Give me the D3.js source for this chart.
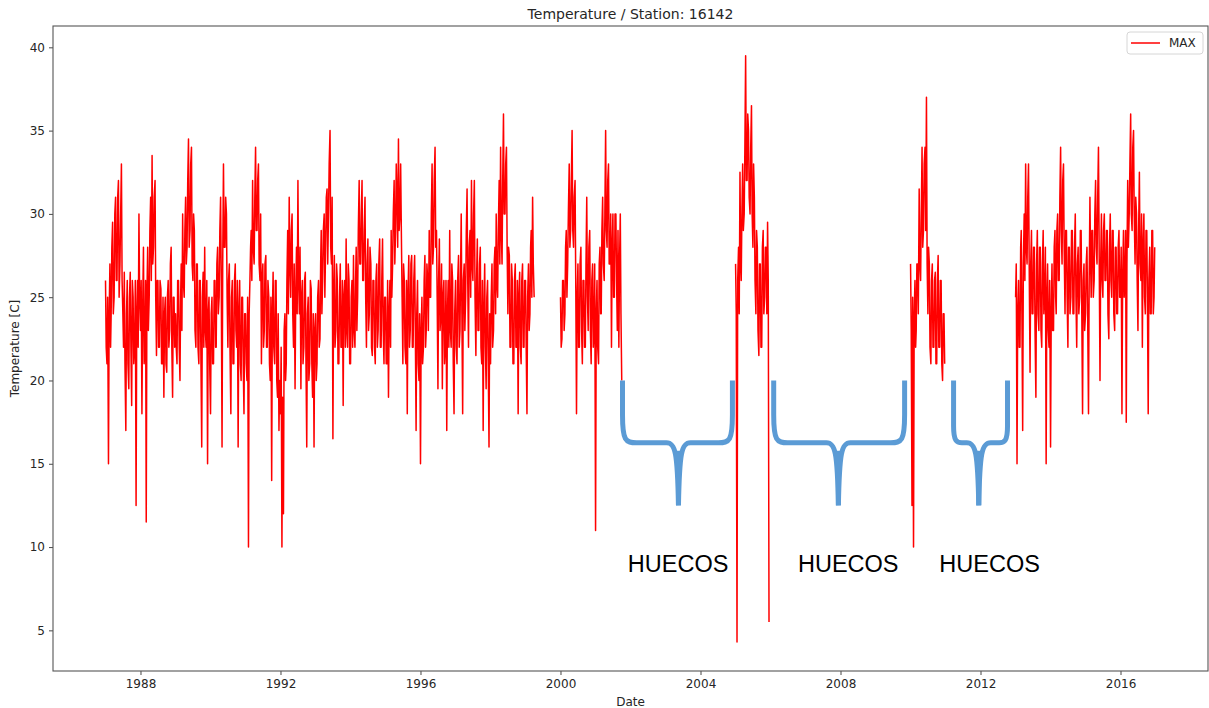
<!DOCTYPE html>
<html>
<head>
<meta charset="utf-8">
<script src="https://cdn.jsdelivr.net/npm/d3@7/dist/d3.min.js"></script>
<style>
  html, body { margin: 0; padding: 0; background: #ffffff; }
  svg { display: block; }
</style>
</head>
<body>
<svg id="chart" width="1209" height="708"></svg>
<script>
// ---------------- DATA (weekly samples: 1st, 8th, 16th, 23rd of each month) ----------------
const y1987 = [26,22, 21,25, 15,24, 27,22, 24,28, 29.5,24, 25,30, 31,26, 26,31, 32,25, 27,30, 33,26, 24,22, 26.5,21, 17,24, 26,21, 19.5,25, 26.5,22, 18.5,26, 25,21, 22,26, 12.5,24, 26,22, 30,25];
const y1988 = [23,26, 18,24, 28,21, 22,26, 11.5,25, 28,23, 25,29, 31,26, 33.5,27, 28,31, 32,25, 21.5,26, 26,22, 22,26, 25.5,21, 21,25, 19,24, 25,21, 20.5,25, 26,22, 23,27, 28,22, 19,25, 25,22];
const y1989 = [24,22, 21,26, 26,22, 20,25, 27,23, 30,26, 25,29, 31,27, 28,32, 34.5,28, 29,33, 34,27, 26,30, 29,23, 22,27, 27,22, 21,26, 26,21, 16,25, 26.5,22, 28,23, 22,26, 15,24, 25,21];
const y1990 = [18,24, 25,21, 21,26, 26,22, 22,27, 28,24, 25,29, 31,26, 16,27, 33,28, 28,31, 30,25, 22,26, 27,22, 18,25, 26,21, 21,26, 27,23, 22,26, 16,24, 26,21, 20,25, 25,21, 18,24];
const y1991 = [24,21, 20,25, 10,24, 26,28, 29,26, 32,28, 27,31, 34,29, 29,32, 33,27, 26,30, 21,26, 27,22, 23,27, 27.5,22, 22,26, 25,21, 20,25, 14,24, 26.5,22, 21,26, 26,20, 19,24, 17,20];
const y1992 = [18,22, 10,19, 12,23, 24,20, 21,26, 29,24, 31,27, 25,29, 30,24, 22,27, 19.5,25, 28,24, 32,26, 24,28, 19.5,25, 26,21, 22,26, 26.5,21, 16,24, 25,20, 21,26, 25.5,21, 19,24, 16,23];
const y1993 = [24,20, 21,25, 26,22, 22.5,27, 29,24, 26,29, 30,25, 28,31, 31.5,27, 30,33, 35,28, 27,31, 16.5,25, 27.5,22, 23,27, 26,21, 21,25, 27,22, 22,26, 18.5,25, 26,22, 28.5,23, 22,27, 26,21];
const y1994 = [21,25, 26,22, 27.5,23, 22,26, 28,23, 25,29, 32,27, 27,30, 32,26, 26,29, 31,25, 22,27, 28.5,23, 24,28, 27,22, 21.5,26, 26,22, 21,26, 27,22, 23,27, 28.5,22, 22,26, 28.5,23, 21,25];
const y1995 = [25,21, 21,26, 19,24, 26,22, 29,25, 27,30, 32,27, 29,33, 31,28, 34.5,29, 30,33, 28.5,25, 21,27, 26,22, 21,26, 18,25, 27.5,22, 23,27, 27.5,22, 22,26, 27.5,23, 17,24, 26,21, 20,24];
const y1996 = [15,23, 25,21, 22,26, 27.5,22, 23,27, 26,23, 29,25, 25,30, 33,27, 28,32, 34,28, 29,25, 19.5,26, 28.5,23, 24,27, 19.5,25, 26,21, 22,26, 17,24, 26,22, 29,23, 22,27, 26,21, 18,24];
const y1997 = [26,22, 21,26, 27.5,22, 23,27, 30,24, 18,26, 27,23, 25,29, 31.5,26, 22,28, 29,25, 32,27, 26,30, 32,25, 21.5,26, 28.5,23, 23,27, 28,22, 21,26, 17,24, 27,22, 19.5,25, 26,21, 16,24];
const y1998 = [21,25, 27,22, 23,27, 28,24, 30,26, 25,29, 32,27, 34,29, 27,32, 36,30, 30,33, 34,28, 24,28, 27.5,22, 22,27, 26,21, 21,26, 27,22, 22,26, 18,25, 26.5,22, 21,26, 27,22, 22,26];
const y1999 = [26,22, 18,25, 27,23, 24,28, 29,25, 31,27, 25];
const y2000 = [25,22, 22.5,26, 26,23, 24,28, 29,25, 27,30, 33,28, 29,32, 35,29, 28,31, 32,26, 18,25, 27,22, 22,27, 28,23, 21,26, 26,22, 22,27, 31,25, 23,28, 29,23, 21,26, 27,22, 23,27];
const y2001 = [11,24, 26,22, 21,27, 28,24, 24,29, 31,27, 26,30, 35,29, 28,32, 33,27, 27,30, 22,28, 30,25, 25,30, 30,26, 23,29, 22,27, 30,24, 20];
const y2005 = [27,24, 4.3,26, 28,24, 32.5,27, 26,30, 33,29, 30,34, 39.5,32, 32,36, 35,31, 30,34, 36.5,30, 28,33, 31,26, 24,29, 28,23, 21.5,27, 27,22, 22,28, 29,24, 25,28, 28,24, 29.5,26, 5.5];
const y2010 = [27,23, 12.5,25, 10,24, 26,22, 23,27, 27,24, 31.5,27, 26,30, 34,28, 29,33, 34,29, 37,27, 24,28, 27,22, 21,26, 27,22, 22,26, 26.5,21, 21,26, 27.5,22, 22,26, 26,21, 20,24, 24,21];
const y2013 = [25,27, 15,24, 26,22, 22,28, 29,24, 17,27, 30,26, 33,28, 27,31, 33,27, 20.5,27, 29,24, 24,28, 28,23, 19,27, 29,24, 23,28, 28,23, 22,27, 29,24, 25,28, 15,25, 27,23, 22,26];
const y2014 = [16,24, 27,23, 23,28, 29,25, 24,29, 30,26, 26,31, 34,29, 27,32, 33,28, 24,29, 29,25, 22,28, 28,24, 25,29, 29,24, 24,28, 30,25, 22,27, 28,24, 25,29, 29,24, 18,26, 27,23];
const y2015 = [24,27, 28,24, 18,26, 31,27, 25,29, 29,25, 26,30, 32,28, 27,31, 34,28, 20,27, 30,26, 25,29, 30,26, 26,29, 29,24, 22.5,28, 30,26, 25,29, 29,24, 23,28, 28,24, 24,28, 29,25];
const y2016 = [25,28, 18,26, 29,25, 26,29, 17.5,27, 32,28, 30,33, 36,30, 29,34, 35,30, 27,31, 30,26, 23,29, 32.5,27, 26,30, 22,28, 30,25, 24,29, 29,25, 18,26, 28,24, 24,29, 29,24, 25,28];

const seriesYears = [
  [1987, y1987], [1988, y1988], [1989, y1989], [1990, y1990], [1991, y1991],
  [1992, y1992], [1993, y1993], [1994, y1994], [1995, y1995], [1996, y1996],
  [1997, y1997], [1998, y1998], [1999, y1999], [2000, y2000], [2001, y2001],
  [2005, y2005], [2010, y2010], [2013, y2013], [2014, y2014], [2015, y2015], [2016, y2016]
];
const sampleDays = [1, 8, 16, 23];

const xTickYears = [1988, 1992, 1996, 2000, 2004, 2008, 2012, 2016];
const yTickValues = [5, 10, 15, 20, 25, 30, 35, 40];

// gap annotations ("HUECOS"): brace start year, end year, centre year
const braceStart = [2001.77, 2006.09, 2011.23];
const braceEnd   = [2004.91, 2009.83, 2012.77];
const braceMid   = [2003.37, 2007.94, 2011.95];
const braceTop = 20, braceBar = 16.26, braceTip = 12.5;
const gapLabels = ["HUECOS", "HUECOS", "HUECOS"];
const gapLabelCenters = [2003.36, 2008.22, 2012.26];
const gapLabelBaseline = 8.52;

// ---------------- BUILD POINTS (break the line where samples are missing) ----------------
const points = [];
let prevDate = null;
seriesYears.forEach(([yr, vals]) => {
  vals.forEach((v, i) => {
    const date = new Date(yr, Math.floor(i / 4), sampleDays[i % 4]);
    if (prevDate !== null && (date - prevDate) > 20 * 864e5) points.push({date: null, v: null});
    points.push({date: date, v: v});
    prevDate = date;
  });
});

// ---------------- LAYOUT ----------------
const L = 53, R = 1208, T = 26, B = 671;
const svg = d3.select("#chart");
svg.append("rect").attr("width", 1209).attr("height", 708).attr("fill", "#fff");

const x = d3.scaleTime()
  .domain([new Date(1985, 6, 2), new Date(2018, 6, 2)])
  .range([L, R]);
const y = d3.scaleLinear().domain([2.56, 41.28]).range([B, T]);

function yearToDate(fy) {
  const yr = Math.floor(fy);
  const start = new Date(yr, 0, 1), end = new Date(yr + 1, 0, 1);
  return new Date(+start + (fy - yr) * (end - start));
}
const xf = fy => x(yearToDate(fy));

const fontMain = "'DejaVu Sans', sans-serif";
const textCol = "#262626";

svg.append("clipPath").attr("id", "clip")
  .append("rect").attr("x", L).attr("y", T).attr("width", R - L).attr("height", B - T);

const line = d3.line()
  .defined(d => d.v !== null && d.date !== null)
  .x(d => x(d.date))
  .y(d => y(d.v));

svg.append("path")
  .datum(points)
  .attr("clip-path", "url(#clip)")
  .attr("fill", "none")
  .attr("stroke", "#ff0000")
  .attr("stroke-width", 1.5)
  .attr("stroke-linejoin", "round")
  .attr("d", line);

// axes
const xAxis = d3.axisBottom(x)
  .tickValues(xTickYears.map(yr => new Date(yr, 0, 1)))
  .tickFormat(d3.timeFormat("%Y"))
  .tickSizeInner(4).tickSizeOuter(0).tickPadding(4);
const gx = svg.append("g").attr("transform", `translate(0,${B})`).call(xAxis);
gx.select(".domain").remove();
gx.selectAll(".tick line").attr("stroke", "#333").attr("stroke-width", 0.9);
gx.selectAll(".tick text").attr("fill", textCol).attr("font-family", fontMain).attr("font-size", 12);

const yAxis = d3.axisLeft(y)
  .tickValues(yTickValues)
  .tickFormat(d3.format("d"))
  .tickSizeInner(4).tickSizeOuter(0).tickPadding(4);
const gy = svg.append("g").attr("transform", `translate(${L},0)`).call(yAxis);
gy.select(".domain").remove();
gy.selectAll(".tick line").attr("stroke", "#333").attr("stroke-width", 0.9);
gy.selectAll(".tick text").attr("fill", textCol).attr("font-family", fontMain).attr("font-size", 12);

// spines
svg.append("rect")
  .attr("x", L).attr("y", T).attr("width", R - L).attr("height", B - T)
  .attr("fill", "none").attr("stroke", "#555").attr("stroke-width", 1.1);

// title and labels
svg.append("text").attr("x", (L + R) / 2).attr("y", 19)
  .attr("text-anchor", "middle").attr("font-family", fontMain).attr("font-size", 14)
  .attr("fill", textCol).text("Temperature / Station: 16142");
svg.append("text").attr("x", (L + R) / 2).attr("y", 706)
  .attr("text-anchor", "middle").attr("font-family", fontMain).attr("font-size", 12)
  .attr("fill", textCol).text("Date");
svg.append("text")
  .attr("transform", `translate(19,${(T + B) / 2}) rotate(-90)`)
  .attr("text-anchor", "middle").attr("font-family", fontMain).attr("font-size", 12)
  .attr("fill", textCol).text("Temperature [C]");

// legend
const lg = svg.append("g");
lg.append("rect").attr("x", 1127).attr("y", 32).attr("width", 76).attr("height", 22)
  .attr("rx", 3).attr("fill", "#fff").attr("fill-opacity", 0.8)
  .attr("stroke", "#d6d6d6").attr("stroke-width", 1);
lg.append("line").attr("x1", 1131).attr("x2", 1160).attr("y1", 43).attr("y2", 43)
  .attr("stroke", "#ff0000").attr("stroke-width", 1.5);
lg.append("text").attr("x", 1169).attr("y", 47.3)
  .attr("font-family", fontMain).attr("font-size", 12).attr("fill", textCol).text("MAX");

// braces
const braceCol = "#5b9bd5";
braceStart.forEach((s, i) => {
  const x0 = xf(s), x1 = xf(braceEnd[i]), cx = xf(braceMid[i]);
  const yt = y(braceTop), yb = y(braceBar), yp = y(braceTip);
  const r = Math.min(14, (cx - x0) / 3);
  const r2 = 12;
  const d = [
    `M${x0},${yt}`,
    `L${x0},${yb - 2 * r}`,
    `C${x0},${yb - 2} ${x0 + 3},${yb} ${x0 + r},${yb}`,
    `L${cx - r2},${yb}`,
    `C${cx - 3},${yb} ${cx - 1},${yb + 10} ${cx},${yp}`,
    `M${cx},${yp}`,
    `C${cx + 1},${yb + 10} ${cx + 3},${yb} ${cx + r2},${yb}`,
    `L${x1 - r},${yb}`,
    `C${x1 - 3},${yb} ${x1},${yb - 2} ${x1},${yb - 2 * r}`,
    `L${x1},${yt}`
  ].join(" ");
  svg.append("path").attr("d", d).attr("fill", "none")
    .attr("stroke", braceCol).attr("stroke-width", 5).attr("stroke-linecap", "butt");
  svg.append("line").attr("x1", cx).attr("x2", cx).attr("y1", yb + 8).attr("y2", yp)
    .attr("stroke", braceCol).attr("stroke-width", 5);
});

// HUECOS labels
gapLabels.forEach((t, i) => {
  svg.append("text").attr("x", xf(gapLabelCenters[i])).attr("y", y(gapLabelBaseline))
    .attr("text-anchor", "middle").attr("font-family", "'Liberation Sans', Arial, sans-serif")
    .attr("font-size", 23.5).attr("fill", "#000").text(t);
});
</script>
</body>
</html>
